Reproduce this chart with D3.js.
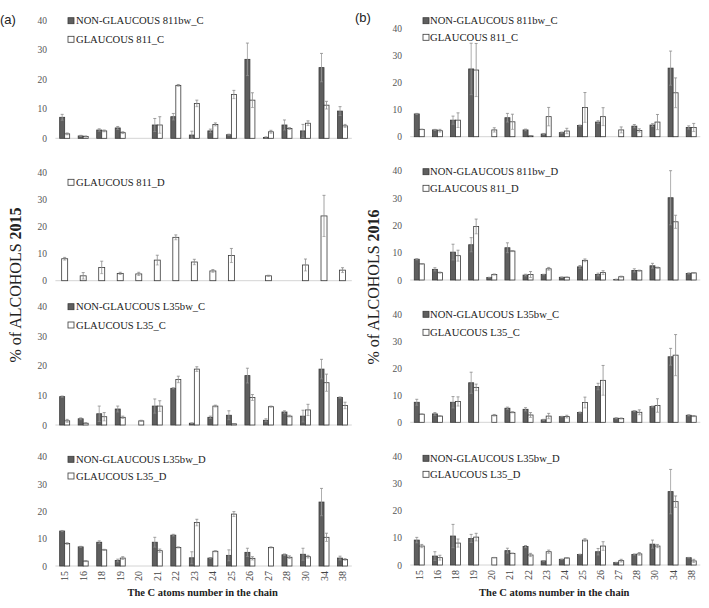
<!DOCTYPE html>
<html><head><meta charset="utf-8">
<script src="https://cdn.jsdelivr.net/npm/d3@7"></script>
<style>body{margin:0;background:#fff}svg{display:block}</style>
</head><body>
<svg id="c" width="709" height="608"></svg>
<script>
const categories = ["15","16","18","19","20","21","22","23","24","25","26","27","28","30","34","38"];
const yTicks = [0,10,20,30,40];

// 2015
const ng811bwC_2015 = [7.1,0.8,2.8,3.5,null,4.5,7.3,1.1,2.5,1.2,26.7,0.3,4.5,2.5,23.9,9.2];
const ng811bwC_2015_err = [1.0,0.2,0.4,0.5,null,2.2,1.1,1.3,0.6,0.2,5.5,0.2,1.7,2.2,4.8,1.5];
const g811C_2015 = [1.5,0.6,2.5,1.9,null,4.5,17.9,11.8,4.7,14.8,12.9,2.2,3.3,5.1,11.2,4.2];
const g811C_2015_err = [0.3,0.2,0.3,0.3,null,2.8,0.3,1.1,0.5,1.4,2.5,0.5,0.3,0.8,1.3,0.5];

const g811D_2015 = [8.1,1.8,4.9,2.7,2.5,7.6,16.0,6.9,3.6,9.3,null,1.8,null,5.8,23.9,3.9];
const g811D_2015_err = [0.5,1.2,2.3,0.4,0.6,1.8,0.9,1.0,0.5,2.6,null,0.2,null,2.2,7.6,0.9];

const ngL35bwC_2015 = [9.6,2.1,3.8,5.4,null,6.4,12.4,0.6,2.6,3.3,16.7,1.6,4.4,3.0,18.9,9.3];
const ngL35bwC_2015_err = [0.2,0.3,2.6,1.0,null,2.4,0.2,0.1,0.4,1.5,2.5,0.5,0.4,2.0,3.3,0.2];
const gL35C_2015 = [1.4,0.6,2.8,2.6,1.4,6.4,15.4,18.9,6.4,0.4,9.3,6.2,3.0,5.1,14.3,6.6];
const gL35C_2015_err = [0.5,0.2,1.4,0.4,0.2,1.8,1.1,0.8,0.3,0.1,1.0,0.2,0.3,1.9,2.9,1.1];

const ngL35bwD_2015 = [12.8,7.0,8.7,2.0,null,8.7,11.3,3.0,2.9,3.9,5.0,null,4.1,4.3,23.4,2.9];
const ngL35bwD_2015_err = [0.2,0.2,0.5,0.5,null,1.8,0.3,2.2,0.2,2.0,1.5,null,0.3,2.2,5.0,0.7];
const gL35D_2015 = [8.2,1.8,5.9,2.9,null,5.6,6.8,15.9,5.4,19.0,2.8,6.8,3.2,3.4,10.5,2.4];
const gL35D_2015_err = [0.3,0.2,0.2,0.5,null,0.6,0.2,1.2,0.2,0.9,0.6,0.2,0.5,0.5,1.5,0.3];

// 2016
const ng811bwC_2016 = [8.4,2.5,6.1,25.0,null,7.0,2.5,1.0,1.5,4.1,5.4,null,3.9,4.3,25.3,3.4];
const ng811bwC_2016_err = [0.2,0.2,1.5,9.5,null,1.6,0.3,0.2,0.2,0.2,0.5,null,0.6,0.5,6.3,0.6];
const g811C_2016 = [2.7,2.2,6.1,24.6,2.5,5.5,0.3,7.4,2.1,10.8,7.4,2.5,2.3,5.4,16.2,3.4];
const g811C_2016_err = [0.1,0.5,2.7,9.8,0.8,2.8,0.1,3.4,1.0,5.5,3.3,1.1,0.6,2.8,5.5,1.5];

const ng811bwD_2016 = [7.6,3.9,10.2,12.9,0.9,11.8,1.8,2.0,1.0,4.8,2.0,0.2,3.5,5.2,30.1,2.4];
const ng811bwD_2016_err = [0.2,0.6,2.9,2.6,0.1,1.8,0.3,0.1,0.1,0.5,0.5,0.1,0.6,0.9,9.9,0.2];
const g811D_2016 = [5.9,2.7,8.9,19.6,2.0,10.6,2.0,4.1,1.0,7.2,2.7,1.2,3.4,4.5,21.3,2.6];
const g811D_2016_err = [0.1,0.2,2.0,2.7,0.2,0.2,1.1,0.5,0.1,0.5,0.7,0.2,0.2,0.2,2.4,0.1];

const ngL35bwC_2016 = [7.4,3.1,7.4,14.6,null,5.2,4.8,0.9,2.1,3.6,13.2,1.5,4.1,5.8,24.2,2.6];
const ngL35bwC_2016_err = [1.1,0.5,2.1,3.9,null,0.4,0.6,0.2,0.1,0.2,1.2,0.2,0.2,0.2,3.1,0.2];
const gL35C_2016 = [3.0,2.3,7.7,12.9,2.6,3.7,2.7,2.3,2.1,7.3,15.5,1.4,3.7,6.2,24.8,2.3];
const gL35C_2016_err = [0.1,0.1,1.7,1.2,0.3,0.2,0.9,1.0,0.5,2.0,5.5,0.2,0.9,2.5,7.6,0.2];

const ngL35bwD_2016 = [9.2,3.3,10.7,9.8,null,5.3,6.8,1.5,2.1,3.9,4.9,0.9,3.9,7.7,27.1,2.7];
const ngL35bwD_2016_err = [1.0,1.6,4.3,1.5,null,0.9,0.4,0.1,0.1,0.1,1.2,0.1,0.2,1.5,8.2,0.1];
const gL35D_2016 = [7.0,2.7,8.1,10.3,2.7,4.3,3.7,4.9,2.6,9.2,7.0,1.6,4.1,7.0,23.4,1.5];
const gL35D_2016_err = [0.6,0.9,1.5,1.4,0.1,0.1,0.6,0.6,0.1,0.5,1.6,0.5,0.5,0.6,2.1,0.6];

const DARK = "#5f5f5f", DARK_STROKE = "#3a3a3a", WHITE_STROKE = "#3a3a3a", ERR = "#8a8a8a";

const svg = d3.select("#c");

const leftCol = {x0:55.4, x1:351.8, tickX:47, legSq:68, legX:76};
const rightCol = {x0:410.2, x1:700.3, tickX:402, legSq:423, legX:430};

const panels = [
  {col:leftCol, y0:138.3, y40:20, leg:[20.7,39.3], series:[
    {name:"NON-GLAUCOUS 811bw_C", v:ng811bwC_2015, e:ng811bwC_2015_err, dark:true},
    {name:"GLAUCOUS 811_C", v:g811C_2015, e:g811C_2015_err, dark:false}]},
  {col:leftCol, y0:280.7, y40:172.3, leg:[182.3], series:[
    {name:"GLAUCOUS 811_D", v:g811D_2015, e:g811D_2015_err, dark:false}]},
  {col:leftCol, y0:425, y40:306.7, leg:[306.7,325], series:[
    {name:"NON-GLAUCOUS L35bw_C", v:ngL35bwC_2015, e:ngL35bwC_2015_err, dark:true},
    {name:"GLAUCOUS L35_C", v:gL35C_2015, e:gL35C_2015_err, dark:false}]},
  {col:leftCol, y0:566, y40:456.7, leg:[459.3,476], bottom:true, series:[
    {name:"NON-GLAUCOUS L35bw_D", v:ngL35bwD_2015, e:ngL35bwD_2015_err, dark:true},
    {name:"GLAUCOUS L35_D", v:gL35D_2015, e:gL35D_2015_err, dark:false}]},
  {col:rightCol, y0:136.7, y40:28.3, leg:[20.7,37.3], series:[
    {name:"NON-GLAUCOUS 811bw_C", v:ng811bwC_2016, e:ng811bwC_2016_err, dark:true},
    {name:"GLAUCOUS 811_C", v:g811C_2016, e:g811C_2016_err, dark:false}]},
  {col:rightCol, y0:280, y40:170.7, leg:[171.7,188.3], series:[
    {name:"NON-GLAUCOUS 811bw_D", v:ng811bwD_2016, e:ng811bwD_2016_err, dark:true},
    {name:"GLAUCOUS 811_D", v:g811D_2016, e:g811D_2016_err, dark:false}]},
  {col:rightCol, y0:422.3, y40:314, leg:[314.3,332.3], series:[
    {name:"NON-GLAUCOUS L35bw_C", v:ngL35bwC_2016, e:ngL35bwC_2016_err, dark:true},
    {name:"GLAUCOUS L35_C", v:gL35C_2016, e:gL35C_2016_err, dark:false}]},
  {col:rightCol, y0:565, y40:456.7, leg:[458.3,474.3], bottom:true, series:[
    {name:"NON-GLAUCOUS L35bw_D", v:ngL35bwD_2016, e:ngL35bwD_2016_err, dark:true},
    {name:"GLAUCOUS L35_D", v:gL35D_2016, e:gL35D_2016_err, dark:false}]},
];

const serif = "'Liberation Serif','Times New Roman',serif";

panels.forEach(p => {
  const g = svg.append("g");
  const x = d3.scaleBand().domain(categories).range([p.col.x0, p.col.x1]).padding(0);
  const y = d3.scaleLinear().domain([0,40]).range([p.y0, p.y40]);

  // y axis labels
  const ya = d3.axisLeft(y).tickValues(yTicks).tickSize(0).tickPadding(0);
  const yg = g.append("g").attr("transform", `translate(${p.col.tickX},0)`).call(ya);
  yg.select(".domain").remove();
  yg.selectAll("text").attr("font-family", serif).attr("font-size", 9.5).attr("fill", "#555");

  // baseline
  g.append("line").attr("x1", p.col.x0).attr("x2", p.col.x1)
    .attr("y1", y(0)).attr("y2", y(0)).attr("stroke", "#d4d4d4").attr("stroke-width", 1);

  const n = p.series.length;
  const bw = n === 1 ? 6 : 5;
  p.series.forEach((s, si) => {
    const off = n === 1 ? -bw/2 : (si === 0 ? -bw : 0);
    const data = categories.map((c,i) => ({c, v:s.v[i], e:s.e[i]})).filter(d => d.v != null);
    g.selectAll(null).data(data).enter().append("rect")
      .attr("x", d => x(d.c) + x.bandwidth()/2 + off)
      .attr("width", bw)
      .attr("y", d => y(d.v))
      .attr("height", d => y(0) - y(d.v))
      .attr("fill", s.dark ? DARK : "#fff")
      .attr("stroke", s.dark ? DARK_STROKE : WHITE_STROKE)
      .attr("stroke-width", 0.8);
    // error bars
    const cx = d => x(d.c) + x.bandwidth()/2 + off + bw/2;
    const eg = g.selectAll(null).data(data.filter(d => d.e != null)).enter().append("g");
    eg.append("line").attr("x1", cx).attr("x2", cx)
      .attr("y1", d => y(Math.max(0, d.v - d.e))).attr("y2", d => y(d.v + d.e))
      .attr("stroke", s.dark ? "#9a9a9a" : ERR).attr("stroke-width", 0.8);
    eg.append("line").attr("x1", d => cx(d) - 1.5).attr("x2", d => cx(d) + 1.5)
      .attr("y1", d => y(d.v + d.e)).attr("y2", d => y(d.v + d.e))
      .attr("stroke", ERR).attr("stroke-width", 0.8);
    eg.append("line").attr("x1", d => cx(d) - 1.5).attr("x2", d => cx(d) + 1.5)
      .attr("y1", d => y(Math.max(0, d.v - d.e))).attr("y2", d => y(Math.max(0, d.v - d.e)))
      .attr("stroke", s.dark ? "#9a9a9a" : ERR).attr("stroke-width", 0.6);

    // legend
    const ly = p.leg[si];
    g.append("rect").attr("x", p.col.legSq).attr("y", ly - 3).attr("width", 6).attr("height", 6)
      .attr("fill", s.dark ? DARK : "#fff").attr("stroke", DARK_STROKE).attr("stroke-width", 0.8);
    g.append("text").attr("x", p.col.legX).attr("y", ly).attr("dy", "0.35em")
      .attr("font-family", serif).attr("font-size", 10.6).attr("fill", "#222").text(s.name);
  });

  if (p.bottom) {
    const xa = d3.axisBottom(x).tickSize(0).tickPadding(0);
    const xg = g.append("g").attr("transform", `translate(0,${y(0)})`).call(xa);
    xg.select(".domain").remove();
    xg.selectAll("text").attr("font-family", serif).attr("font-size", 10).attr("fill", "#444")
      .attr("transform", "rotate(-90)").attr("text-anchor", "end")
      .attr("x", -5).attr("y", 0).attr("dy", "0.35em");
    g.append("text").attr("x", (p.col.x0 + p.col.x1)/2 - 1).attr("y", 592).attr("dy", "0.35em")
      .attr("text-anchor", "middle").attr("font-family", serif).attr("font-weight", "bold")
      .attr("font-size", 10.5).attr("fill", "#222").text("The C atoms number in the chain");
  }
});

// panel letters
svg.append("text").attr("x", 0).attr("y", 19).attr("dy", "0.35em")
  .attr("font-family", "'Liberation Sans',Arial,sans-serif").attr("font-size", 13).attr("fill", "#222").text("(a)");
svg.append("text").attr("x", 355).attr("y", 17).attr("dy", "0.35em")
  .attr("font-family", "'Liberation Sans',Arial,sans-serif").attr("font-size", 13).attr("fill", "#222").text("(b)");

// y titles
function yTitle(cx, cy, year) {
  const t = svg.append("text").attr("transform", `translate(${cx},${cy}) rotate(-90)`)
    .attr("text-anchor", "middle").attr("dy", "0.35em")
    .attr("font-family", serif).attr("font-size", 16).attr("fill", "#222");
  t.append("tspan").text("% of ALCOHOLS ");
  t.append("tspan").attr("font-weight", "bold").text(year);
}
yTitle(15, 285, "2015");
yTitle(373, 287, "2016");
</script>
</body></html>
